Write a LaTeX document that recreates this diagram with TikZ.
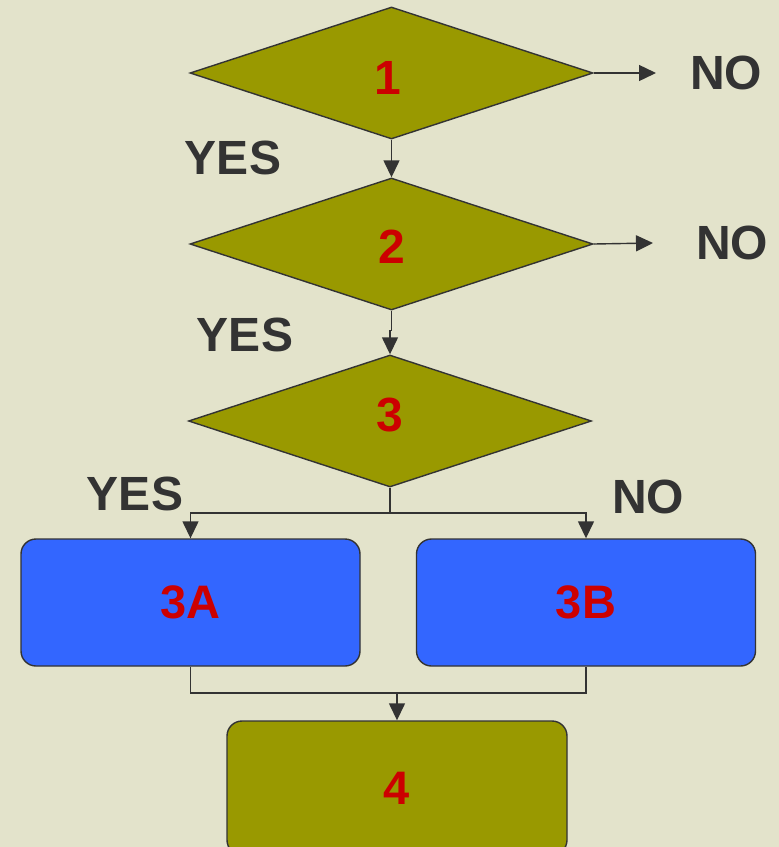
\documentclass[tikz,border=0pt]{standalone}
\usepackage{fontspec}
\setmainfont{Liberation Sans}
\usetikzlibrary{shapes.geometric,arrows.meta}
\definecolor{bg}{RGB}{227,227,203}
\definecolor{olive}{RGB}{153,153,0}
\definecolor{boxblue}{RGB}{51,102,255}
\definecolor{numred}{RGB}{204,0,0}
\definecolor{ink}{RGB}{51,51,51}
\tikzset{
  decision/.style={diamond, draw=ink, line width=1.4pt, fill=olive, inner sep=0pt,
    minimum width=403pt, minimum height=132pt,
    font=\fontsize{48}{48}\selectfont\bfseries, text=numred},
  stepbox/.style={rectangle, rounded corners=15pt, draw=ink, line width=1.4pt, inner sep=0pt,
    minimum width=339pt, minimum height=127pt,
    font=\fontsize{47}{47}\selectfont\bfseries, text=numred},
  link/.style={draw=ink, line width=1.4pt},
  arr/.style={link, -{Triangle[width=16pt,length=17pt]}},
  answer/.style={font=\fontsize{48}{48}\selectfont\bfseries, text=ink}
}
% shift a label vertically while keeping its natural box size
\newcommand\nudge[2]{\raisebox{#1}[\height][\depth]{#2}}
\begin{document}
\begin{tikzpicture}[x=1pt, y=-1pt]
  \fill[bg] (0,0) rectangle (779,847);
  \useasboundingbox (0,0) rectangle (779,847);
  \begin{scope}
    \clip (0,0) rectangle (779,847);

    % decisions (numbers sit slightly off the diamond centres)
    \node[decision] (d1) at (391.5,73) {\nudge{-5pt}{1}\kern8pt};
    \node[decision] (d2) at (391.5,244) {\nudge{-3pt}{2}};
    \node[decision] (d3) at (390,421) {\nudge{6pt}{3}};

    % process boxes
    \node[stepbox, fill=boxblue] (a3) at (190.5,602.5) {3A};
    \node[stepbox, fill=boxblue] (b3) at (586,602.5) {3B};
    \node[stepbox, fill=olive, minimum width=340pt, minimum height=134pt] (d4) at (397,788) {4};

    % free ends and junctions
    \coordinate (n1) at (656,73);
    \coordinate (n2) at (653,243);
    \coordinate (j3) at (390,513);
    \coordinate (m4) at (397,693);

    % connectors
    \draw[arr] (d1.south) -- (d2.north);
    \draw[arr] (d2.south) -- ++(0,20) -| (d3.north);
    \draw[arr] (d1.east) -- (n1);
    \draw[arr] (d2.east) -- (n2);
    \draw[link] (d3.south) -- (j3);
    \draw[arr] (j3) -| (a3.north);
    \draw[arr] (j3) -| (b3.north);
    \draw[link] (a3.south) |- (m4) -| (b3.south);
    \draw[arr] (m4) -- (d4.north);

    % answers
    \node[answer] (no1) at (726,73) {NO};
    \node[answer] (yes1) at (233,158) {YES};
    \node[answer] (no2) at (732,243) {NO};
    \node[answer] (yes2) at (245,335) {YES};
    \node[answer] (yes3) at (135,494) {YES};
    \node[answer] (no3) at (648,497) {NO};
  \end{scope}
\end{tikzpicture}
\end{document}
